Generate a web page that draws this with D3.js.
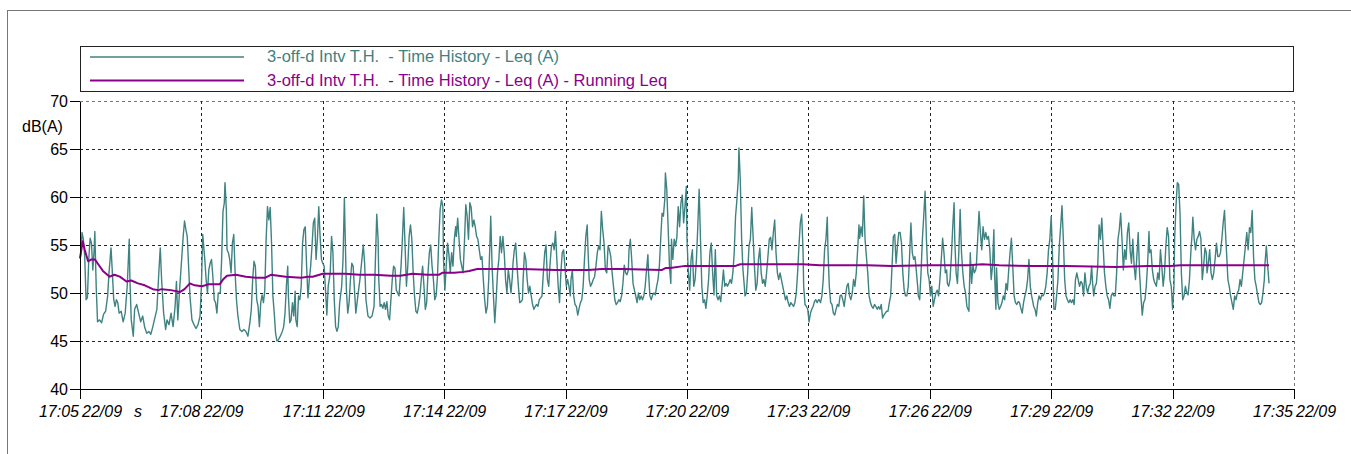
<!DOCTYPE html>
<html>
<head>
<meta charset="utf-8">
<style>
  body { margin: 0; background: #fff; }
  svg { display: block; font-family: "Liberation Sans", Arial, sans-serif; }
  .axis path, .axis line { stroke: #000; shape-rendering: crispEdges; }
  .axis text { font-size: 16px; fill: #000; font-family: "Liberation Sans", Arial, sans-serif; }
  .grid line { stroke: #222; stroke-dasharray: 3,3; shape-rendering: crispEdges; }
  .xlab { font-size: 16.5px; font-style: italic; fill: #000; }
</style>
</head>
<body>
<script src="https://cdn.jsdelivr.net/npm/d3@7"></script>
<script>
// ---- data ----
// time axis labels (one every 3 minutes from 17:05)
var xTickLabels = ["17:05","17:08","17:11","17:14","17:17","17:20","17:23","17:26","17:29","17:32","17:35"];
var xTickDate = "22/09";
var yTicks = [40, 45, 50, 55, 60, 65, 70];
var yUnit = "dB(A)";
var seriesNames = [
  "3-off-d Intv T.H.  - Time History - Leq (A)",
  "3-off-d Intv T.H.  - Time History - Leq (A) - Running Leq"
];
var seriesColors = ["#3f8282", "#8b008b"];

// [seconds after 17:05:00, dB(A)]
var leqData = [
[0,53.6],[1,54.0],[3,56.3],[5,55.6],[7,53.8],[9,49.3],[11,49.5],[13,53.5],[15,55.7],[17,55.2],[19,52.4],[21,54.5],[22,56.4],[24,50.7],[26,47.0],[29,47.2],[32,46.9],[35,47.8],[38,48.1],[41,49.7],[43,52.1],[46,54.7],[48,52.1],[50,49.3],[52,48.6],[54,49.3],[56,49.0],[58,47.9],[61,48.1],[64,47.0],[67,47.9],[70,50.7],[73,55.6],[74,51.4],[76,47.2],[79,45.5],[81,48.3],[84,48.8],[87,47.9],[90,47.0],[93,47.6],[96,46.4],[99,45.8],[102,46.0],[105,45.7],[108,46.5],[111,47.4],[114,48.3],[117,52.3],[119,54.7],[121,51.4],[124,47.9],[127,46.2],[129,47.2],[132,46.7],[135,47.9],[138,46.5],[141,48.6],[143,51.2],[145,47.2],[148,50.7],[151,53.8],[153,55.9],[155,57.5],[157,56.6],[159,55.9],[161,52.8],[163,49.7],[166,47.2],[169,46.7],[172,46.3],[175,46.7],[178,47.6],[180,50.7],[182,56.1],[185,53.5],[187,51.4],[189,50.0],[191,52.4],[193,53.1],[195,53.5],[197,51.7],[199,49.3],[201,49.0],[203,47.9],[205,50.0],[208,50.0],[210,53.5],[212,58.5],[214,59.4],[215,61.5],[217,58.7],
[218,54.5],[220,54.2],[222,53.5],[224,52.1],[226,55.2],[228,56.1],[230,52.1],[232,49.3],[234,47.7],[237,46.2],[240,46.0],[243,46.2],[246,46.0],[249,45.5],[252,47.0],[254,48.3],[256,51.4],[258,53.3],[260,52.8],[262,49.3],[264,48.6],[266,46.5],[268,49.0],[270,49.8],[272,49.0],[274,50.3],[276,55.6],[278,59.0],[280,57.6],[282,58.9],[284,55.2],[286,49.7],[288,47.9],[290,45.8],[292,45.0],[294,45.1],[297,45.5],[300,46.0],[302,46.5],[304,47.9],[306,50.7],[308,52.8],[309,49.7],[311,46.9],[313,47.2],[315,49.0],[317,47.6],[319,50.2],[320,47.2],[322,46.5],[324,49.7],[326,49.3],[328,50.7],[330,55.2],[332,56.6],[334,56.9],[336,52.8],[338,49.5],[340,51.4],[342,52.8],[344,54.9],[346,57.3],[348,57.8],[350,53.5],[352,55.6],[354,59.0],[356,55.9],[358,53.5],[360,53.1],[362,52.8],[364,50.3],[366,47.7],[368,50.7],[371,52.1],[373,55.9],[375,54.2],[377,49.3],[379,46.5],[381,46.0],[383,46.5],[385,49.0],[388,50.7],[390,53.5],[392,59.9],[393,56.6],[395,50.3],[397,47.9],[399,49.0],[401,51.4],[403,53.1],[405,52.8],[407,50.3],[409,47.9],[412,49.7],[415,51.4],[418,53.5],[420,55.0],[422,53.1],[424,49.3],[427,47.6],[430,47.4],[433,47.6],[436,48.6],
[440,58.2],[442,55.6],[443,51.4],[445,48.6],[447,48.8],[449,48.4],[451,49.0],[453,48.3],[455,49.1],[457,47.6],[459,47.2],[461,49.3],[463,51.4],[465,52.8],[467,52.6],[469,50.3],[471,50.0],[473,49.7],[474,50.7],[476,52.8],[478,55.6],[480,58.9],[482,54.9],[484,50.7],[486,52.8],[488,55.9],[490,57.1],[492,55.6],[494,52.1],[496,49.7],[498,48.1],[500,47.9],[502,48.6],[504,49.7],[506,51.4],[508,52.8],[510,50.7],[512,48.3],[514,49.0],[516,52.1],[518,54.2],[520,55.0],[522,52.8],[524,51.4],[526,49.3],[528,49.7],[530,51.7],[532,55.6],[534,58.7],[536,59.7],[538,59.0],[539,53.5],[541,50.3],[543,52.8],[545,55.2],[547,54.0],[549,52.1],[551,54.2],[553,52.8],[555,55.6],[557,56.9],[558,55.9],[560,57.8],[562,55.6],[564,53.5],[566,52.8],[568,52.1],[570,55.2],[572,59.2],[574,58.0],[576,55.6],[578,59.4],[580,58.9],[582,56.9],[584,57.6],[586,56.9],[588,55.9],[590,55.6],[592,54.5],[594,53.5],[596,53.8],[598,51.4],[600,49.3],[602,47.9],[604,48.6],[606,51.4],[608,55.6],[609,58.0],[611,52.8],[613,49.7],[615,46.9],[617,49.3],[619,52.1],[621,53.5],[623,55.9],[625,54.2],[627,55.9],[629,54.2],[631,51.4],[633,50.0],[635,52.4],[637,51.4],[639,50.0],[641,51.7],[642,53.1],[644,54.5],[646,55.2],[648,52.8],[650,50.7],[652,49.0],[654,49.1],[656,49.3],
[657,51.4],[659,54.2],[661,53.5],[663,51.4],[665,50.0],[667,50.7],[669,49.7],[671,48.8],[673,48.3],[675,48.6],[677,48.8],[679,48.6],[681,49.3],[683,49.5],[685,49.7],[687,52.1],[689,54.2],[691,55.0],[693,51.4],[695,50.7],[697,53.1],[699,54.9],[701,55.2],[703,54.5],[705,56.4],[707,53.5],[709,50.7],[711,49.0],[713,52.1],[715,54.2],[717,54.5],[719,52.8],[721,50.7],[723,51.4],[725,50.7],[727,49.7],[728,51.4],[730,52.4],[732,49.7],[734,48.8],[736,48.6],[738,47.7],[740,48.4],[742,49.0],[744,49.3],[746,50.7],[748,53.5],[750,55.9],[752,57.1],[753,54.9],[755,51.4],[757,50.7],[759,51.0],[761,51.4],[763,51.7],[765,52.8],[767,54.2],[769,54.9],[771,54.5],[773,58.5],[775,56.6],[777,55.2],[779,52.4],[781,52.1],[783,54.9],[785,54.5],[787,53.8],[789,52.1],[791,50.7],[793,49.3],[795,48.8],[797,49.0],[799,49.3],[801,49.1],[803,49.7],[805,51.0],[807,52.9],[809,52.1],[811,51.9],[813,52.4],[814,54.5],[816,55.6],[818,53.5],[820,51.0],[822,50.3],[824,49.7],[826,49.0],[828,50.0],[830,49.3],[832,49.7],[834,49.3],[836,49.7],[838,50.7],[840,52.4],[842,54.0],[843,52.1],[845,49.7],[847,49.3],[849,49.8],[851,50.0],[853,49.8],[855,50.7],[857,51.4],[859,52.8],[861,55.6],[863,58.3],[865,58.0],[867,59.7],[868,62.5],[870,60.8],[872,56.9],[874,52.8],[876,51.0],
[877,55.6],[879,53.5],[881,55.6],[883,54.9],[885,55.8],[887,59.0],[889,56.9],[891,59.4],[893,60.2],[895,57.3],[897,59.0],[899,61.1],[900,55.6],[902,52.1],[904,50.3],[906,53.5],[908,54.5],[910,50.7],[912,51.4],[914,53.5],[916,56.9],[918,60.8],[920,55.6],[922,50.7],[924,49.0],[926,49.3],[928,48.4],[930,49.7],[932,51.4],[934,54.2],[936,55.2],[938,52.1],[940,49.8],[942,54.5],[944,49.7],[946,49.3],[948,49.7],[950,49.1],[952,50.7],[954,52.4],[956,50.7],[958,51.0],[960,50.7],[962,51.0],[964,51.4],[966,51.0],[968,52.1],[970,54.2],[972,58.0],[974,59.7],[976,61.8],[977,65.1],[979,61.8],[981,55.6],[983,52.4],[985,50.7],[986,49.7],[988,50.0],[990,52.1],[992,54.9],[994,55.6],[996,58.9],[998,55.9],[1000,52.8],[1002,50.3],[1004,51.0],[1006,53.5],[1008,54.7],[1010,52.1],[1012,51.0],[1014,51.4],[1016,50.7],[1018,52.1],[1020,53.8],[1022,55.6],[1024,55.8],[1026,54.5],[1028,56.3],[1030,57.6],[1032,54.2],[1034,52.1],[1036,51.4],[1038,52.1],[1040,51.4],[1042,50.7],[1044,50.0],[1046,49.3],[1048,49.7],[1050,49.0],[1052,48.6],[1054,49.0],[1056,48.8],[1058,48.6],[1060,49.0],[1062,50.0],[1064,52.1],[1066,54.9],[1068,57.3],[1070,58.2],[1072,54.5],[1073,50.7],[1075,48.8],[1077,48.6],[1079,48.3],[1081,47.0],[1083,47.9],[1085,48.3],[1087,48.6],[1089,49.1],[1091,49.3],[1093,49.0],[1095,49.3],
[1096,49.3],[1098,49.0],[1100,49.7],[1102,51.4],[1104,54.5],[1106,55.6],[1108,57.9],[1109,54.5],[1111,50.7],[1113,49.0],[1115,48.8],[1117,47.9],[1119,47.7],[1121,48.3],[1123,48.8],[1125,48.6],[1127,49.7],[1129,49.8],[1131,49.3],[1133,48.6],[1135,49.7],[1137,50.7],[1139,51.0],[1141,49.7],[1143,49.3],[1145,50.0],[1147,51.4],[1149,50.7],[1151,52.1],[1153,54.5],[1155,57.1],[1156,55.7],[1158,56.9],[1160,55.9],[1162,60.1],[1164,55.6],[1166,53.8],[1168,52.1],[1170,49.7],[1172,49.0],[1174,48.6],[1176,48.4],[1178,48.8],[1180,48.6],[1182,48.3],[1184,48.6],[1186,48.3],[1188,48.8],[1190,47.4],[1192,47.7],[1194,47.9],[1196,48.1],[1198,48.1],[1200,49.0],[1202,49.7],[1204,52.8],[1206,55.9],[1208,56.1],[1210,53.1],[1212,54.9],[1214,56.3],[1216,56.3],[1218,55.2],[1220,52.1],[1222,50.3],[1224,49.7],[1226,49.7],[1228,50.7],[1230,53.8],[1232,57.3],[1234,54.2],[1236,53.5],[1238,53.8],[1240,52.3],[1242,50.7],[1243,49.7],[1245,49.3],[1247,52.1],[1249,55.6],[1251,58.0],[1253,60.6],[1255,55.6],[1257,52.1],[1259,51.4],[1261,49.7],[1263,50.7],[1265,48.6],[1267,49.3],[1269,50.0],[1271,50.3],[1273,49.7],[1275,51.4],[1277,53.5],[1279,55.7],[1281,54.2],[1283,52.1],[1285,52.4],[1286,51.0],[1288,50.7],[1290,51.4],[1292,53.8],[1294,56.9],[1296,59.4],[1297,55.6],[1299,52.1],[1301,51.0],[1303,54.2],[1305,58.7],[1307,54.2],[1309,52.1],[1311,50.7],[1313,50.0],[1315,48.6],
[1318,48.1],[1320,54.2],[1322,51.0],[1324,52.9],[1326,52.1],[1328,52.4],[1329,52.8],[1331,55.6],[1333,58.5],[1335,56.3],[1337,54.5],[1339,56.9],[1341,55.6],[1343,56.3],[1345,55.6],[1347,55.9],[1349,54.5],[1351,51.4],[1353,52.8],[1355,56.6],[1356,52.1],[1358,48.3],[1359,52.6],[1361,49.0],[1363,48.3],[1365,48.6],[1367,49.0],[1369,49.7],[1371,49.3],[1373,51.0],[1375,50.3],[1377,52.4],[1379,54.2],[1381,55.7],[1383,52.8],[1385,49.7],[1387,49.0],[1389,48.8],[1391,49.1],[1393,49.0],[1395,48.4],[1397,47.9],[1399,49.0],[1401,49.7],[1403,50.3],[1405,51.4],[1407,53.5],[1409,50.7],[1411,49.7],[1413,49.0],[1414,48.6],[1416,48.3],[1418,47.6],[1420,49.0],[1422,49.7],[1424,49.3],[1426,49.8],[1428,49.7],[1430,50.0],[1432,50.7],[1434,52.1],[1436,54.5],[1438,55.6],[1440,58.0],[1442,53.8],[1444,48.3],[1446,48.3],[1448,49.7],[1450,51.4],[1452,54.9],[1454,56.9],[1456,59.1],[1458,55.6],[1460,51.4],[1462,49.7],[1464,49.3],[1466,49.0],[1468,49.3],[1470,49.0],[1472,49.3],[1474,48.8],[1476,51.4],[1478,52.1],[1480,51.4],[1482,50.7],[1484,51.2],[1486,51.0],[1488,49.7],[1490,52.1],[1492,50.7],[1494,50.0],[1496,50.7],[1498,51.0],[1500,52.8],[1501,51.4],[1503,49.7],[1505,50.7],[1507,51.0],[1509,52.8],[1511,57.1],[1513,55.6],[1515,57.8],[1517,54.9],[1519,52.1],[1521,50.7],[1523,49.7],[1525,49.3],[1527,48.4],[1529,49.7],[1531,50.0],[1533,49.7],
[1535,49.7],[1537,52.1],[1539,55.6],[1541,56.6],[1543,58.3],[1545,55.6],[1547,52.4],[1549,54.5],[1551,53.5],[1553,56.3],[1555,57.3],[1557,54.5],[1559,53.1],[1561,55.6],[1563,52.8],[1565,51.4],[1567,53.8],[1569,56.3],[1571,52.1],[1573,49.7],[1575,47.7],[1577,49.0],[1579,49.3],[1581,50.7],[1583,53.1],[1585,56.4],[1586,54.2],[1588,54.5],[1590,52.4],[1592,51.4],[1594,51.0],[1596,50.7],[1598,52.1],[1600,51.4],[1602,54.5],[1604,52.8],[1606,50.7],[1608,52.1],[1610,54.9],[1612,56.8],[1614,55.9],[1616,51.4],[1618,50.7],[1620,48.3],[1622,50.7],[1623,55.6],[1625,59.0],[1627,61.5],[1629,61.3],[1631,58.3],[1633,52.1],[1635,49.3],[1637,49.7],[1639,50.7],[1641,50.0],[1643,49.8],[1645,51.4],[1647,54.2],[1649,56.3],[1650,57.9],[1652,55.6],[1654,54.5],[1656,55.6],[1658,55.9],[1660,56.4],[1662,55.6],[1664,51.4],[1666,52.8],[1668,54.7],[1670,54.2],[1671,52.1],[1673,53.1],[1675,54.5],[1677,52.1],[1679,51.4],[1681,52.1],[1683,53.5],[1685,55.2],[1687,53.8],[1689,53.8],[1691,54.2],[1693,55.6],[1695,57.3],[1697,58.6],[1698,56.9],[1700,54.2],[1702,51.4],[1704,50.7],[1706,49.7],[1708,49.0],[1710,48.3],[1712,49.7],[1714,49.3],[1716,50.0],[1718,50.3],[1720,51.4],[1722,50.7],[1724,52.1],[1726,53.5],[1728,54.9],[1730,56.3],[1732,54.5],[1734,56.8],[1736,56.3],[1738,58.6],[1740,53.8],[1742,51.4],[1744,50.7],[1746,49.8],[1748,49.0],[1750,48.8],[1752,49.0],[1754,50.0],[1756,51.4],[1757,53.1],[1759,54.9],[1761,52.8],[1763,51.0]
];

var runningData = [
[0,53.6],[4,55.4],[7,54.5],[12,53.3],[17,53.5],[22,53.5],[27,53.0],[34,52.3],[44,51.7],[51,51.9],[59,51.7],[69,51.2],[76,51.3],[86,51.0],[96,50.8],[108,50.4],[116,50.3],[121,50.4],[135,50.3],[148,50.1],[155,50.4],[163,51.0],[170,50.8],[181,50.7],[190,50.9],[207,50.9],[212,51.4],[218,51.8],[231,51.9],[246,51.7],[261,51.6],[275,51.6],[283,51.9],[305,51.7],[328,51.6],[338,51.7],[345,51.7],[360,52.0],[380,52.0],[394,52.0],[414,51.9],[436,51.9],[461,51.8],[475,51.8],[493,52.0],[515,51.9],[532,51.9],[537,52.1],[555,52.1],[569,52.2],[577,52.3],[589,52.5],[634,52.5],[655,52.5],[705,52.4],[754,52.4],[774,52.5],[804,52.5],[863,52.4],[868,52.6],[875,52.6],[895,52.8],[971,52.8],[979,53.0],[1038,53.0],[1072,53.0],[1097,52.9],[1168,52.9],[1203,52.8],[1257,52.9],[1317,52.9],[1338,53.0],[1363,52.9],[1413,52.8],[1462,52.8],[1536,52.7],[1583,52.8],[1617,52.8],[1632,52.9],[1681,52.9],[1731,52.9],[1763,52.9]
];

// ---- layout ----
var W = 1351, H = 454;
var margin = {top: 101, left: 80},
    width = 1214,
    height = 288;

var svg = d3.select("body").append("svg")
    .attr("width", W)
    .attr("height", H);

// outer frame (runs off the page to the right and bottom)
svg.append("rect")
    .attr("x", 7.5).attr("y", 10.5)
    .attr("width", W).attr("height", H)
    .attr("fill", "none").attr("stroke", "#777");

// legend box
var leg = svg.append("g");
leg.append("rect")
    .attr("x", 80.5).attr("y", 46.5)
    .attr("width", 1213).attr("height", 45)
    .attr("fill", "#fff").attr("stroke", "#222");
seriesNames.forEach(function(name, i) {
  var cy = 57 + i * 23.5;
  leg.append("line")
      .attr("x1", 90).attr("x2", 244)
      .attr("y1", cy).attr("y2", cy)
      .attr("stroke", seriesColors[i])
      .attr("stroke-width", i ? 2 : 1.4);
  leg.append("text")
      .attr("x", 267).attr("y", cy + 5)
      .attr("fill", seriesColors[i])
      .style("font-size", "16.5px")
      .style("white-space", "pre")
      .text(name);
});

var g = svg.append("g")
    .attr("transform", "translate(" + margin.left + "," + margin.top + ")");

var x = d3.scaleLinear().domain([0, 1800]).range([0, width]);
var y = d3.scaleLinear().domain([40, 70]).range([height, 0]);
var xTickSec = xTickLabels.map(function(d, i) { return i * 180; });

// grid
var grid = g.append("g").attr("class", "grid");
grid.selectAll(".h")
    .data(yTicks.filter(function(d) { return d > 40; }))
  .enter().append("line")
    .attr("x1", 0).attr("x2", width)
    .attr("y1", function(d) { return Math.round(y(d)) + 0.5; })
    .attr("y2", function(d) { return Math.round(y(d)) + 0.5; })
    .style("stroke", function(d) { return d === 70 ? "#777" : null; });
grid.selectAll(".v")
    .data(xTickSec.filter(function(d) { return d > 0; }))
  .enter().append("line")
    .attr("y1", 0).attr("y2", height)
    .attr("x1", function(d) { return Math.round(x(d)) + 0.5; })
    .attr("x2", function(d) { return Math.round(x(d)) + 0.5; })
    .style("stroke", function(d) { return d === 1800 ? "#777" : null; });

// series
var line = d3.line()
    .x(function(d) { return x(d[0]); })
    .y(function(d) { return y(d[1]); });

g.append("path")
    .datum(leqData)
    .attr("fill", "none")
    .attr("stroke", seriesColors[0])
    .attr("stroke-width", 1.4)
    .attr("stroke-linejoin", "round")
    .attr("d", line);

g.append("path")
    .datum(runningData)
    .attr("fill", "none")
    .attr("stroke", seriesColors[1])
    .attr("stroke-width", 2)
    .attr("stroke-linejoin", "round")
    .attr("d", line);

// y axis
g.append("g")
    .attr("class", "axis")
    .call(d3.axisLeft(y).tickValues(yTicks).tickSize(10).tickSizeOuter(0).tickPadding(2));

g.append("text")
    .attr("x", 22 - margin.left).attr("y", 132 - margin.top)
    .style("font-size", "16px")
    .text(yUnit);

// x axis
var xa = g.append("g")
    .attr("class", "axis")
    .attr("transform", "translate(0," + height + ")")
    .call(d3.axisBottom(x).tickValues(xTickSec).tickSize(10).tickSizeOuter(0).tickFormat(""));

var lab = xa.selectAll(".lab")
    .data(xTickSec)
  .enter().append("g")
    .attr("transform", function(d) { return "translate(" + x(d) + ",0)"; });
lab.append("text")
    .attr("class", "xlab")
    .attr("x", -1).attr("y", 28)
    .attr("text-anchor", "end")
    .text(function(d, i) { return xTickLabels[i]; });
lab.append("text")
    .attr("class", "xlab")
    .attr("x", 2).attr("y", 28)
    .attr("text-anchor", "start")
    .text(xTickDate);

// stray unit mark under the first interval
xa.append("text")
    .attr("class", "xlab")
    .attr("x", 58).attr("y", 28)
    .text("s");
</script>
</body>
</html>
